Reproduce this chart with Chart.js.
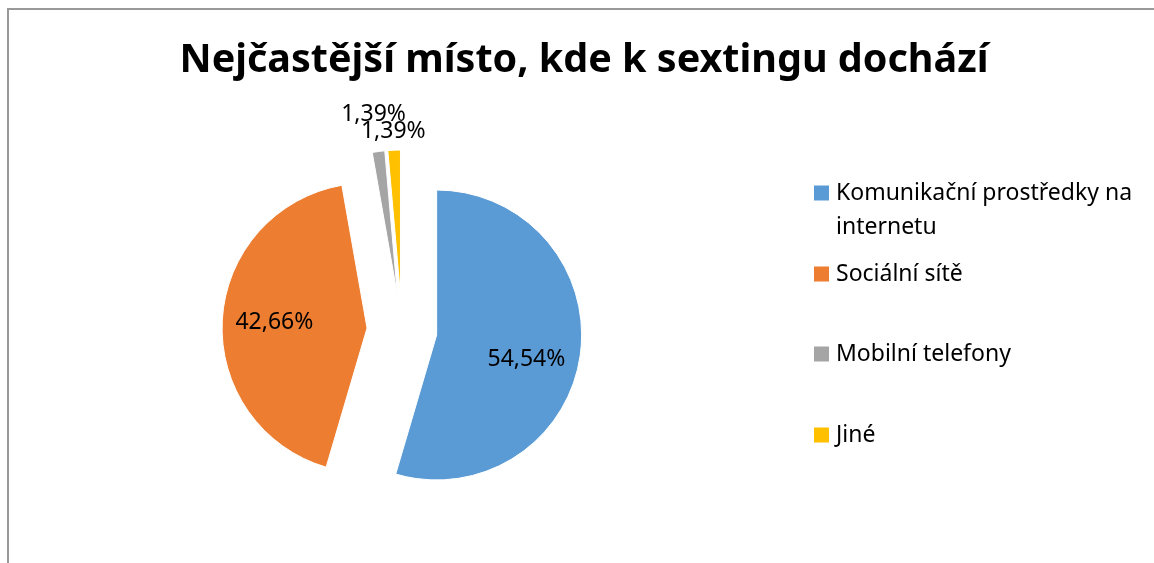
<!DOCTYPE html>
<html>
<head>
<meta charset="utf-8">
<script src="https://cdn.jsdelivr.net/npm/chart.js@4"></script>
<style>
  body { margin: 0; background: #fff; }
  #wrap { position: relative; width: 1154px; height: 563px; overflow: hidden; }
  #frame { position: absolute; left: 7px; top: 8px; width: 1200px; height: 600px;
           border-left: 2px solid #999; border-top: 2px solid #999; }
  canvas { position: absolute; left: 0; top: 0; }
</style>
</head>
<body>
<div id="wrap">
  <div id="frame"></div>
  <canvas id="myChart" width="1154" height="563"></canvas>
</div>
<script>
const chartTitle = 'Nejčastější místo, kde k sextingu dochází';
const categories = [['Komunikační prostředky na', 'internetu'], ['Sociální sítě'], ['Mobilní telefony'], ['Jiné']];
const percentages = [54.54, 42.66, 1.39, 1.39];
const sliceColors = ['#5B9BD5', '#ED7D31', '#A5A5A5', '#FFC000'];

const textFont = '"Noto Sans", sans-serif';
const explode = 35; // px every slice is pulled out of the centre

// Chart.js "offset" also grows the radius of big slices, so pull the
// slices out ourselves and let each arc element draw itself
const explodePlugin = {
    id: 'explode',
    beforeDatasetDraw(chart, args) {
        const ctx = chart.ctx;
        args.meta.data.forEach(function(arc) {
            const mid = (arc.startAngle + arc.endAngle) / 2;
            ctx.save();
            ctx.translate(Math.cos(mid) * explode, Math.sin(mid) * explode);
            arc.draw(ctx);
            ctx.restore();
        });
        return false;
    }
};

// draws the title, the legend on the right and the value labels
const extras = {
    id: 'extras',
    afterDatasetsDraw(chart, args, opts) {
        const ctx = chart.ctx;
        ctx.save();
        ctx.fillStyle = '#000';

        // title
        ctx.font = 'bold 39.5px ' + textFont;
        ctx.textAlign = 'center';
        ctx.textBaseline = 'middle';
        ctx.fillText(chartTitle, 584, 61);

        // value labels
        ctx.font = '23px ' + textFont;
        const meta = chart.getDatasetMeta(0);
        meta.data.forEach(function(arc, i) {
            const mid = (arc.startAngle + arc.endAngle) / 2 + opts.labelShift[i] * Math.PI / 180;
            const dist = explode + opts.labelRadius[i] * arc.outerRadius;
            const x = arc.x + Math.cos(mid) * dist;
            const y = arc.y + Math.sin(mid) * dist;
            const txt = percentages[i].toFixed(2).replace('.', ',') + '%';
            ctx.fillText(txt, x, y);
        });

        // legend
        ctx.textAlign = 'left';
        categories.forEach(function(lines, i) {
            const y = opts.legendY[i];
            ctx.fillStyle = sliceColors[i];
            ctx.fillRect(814, y - 7.5, 15, 15);
            ctx.fillStyle = '#000';
            lines.forEach(function(line, j) {
                ctx.fillText(line, 836, y + j * 34);
            });
        });
        ctx.restore();
    }
};

const data = {
    labels: categories.map(c => c.join(' ')),
    datasets: [{
        data: percentages,
        backgroundColor: sliceColors,
        borderColor: '#fff',
        borderWidth: 1
    }]
};

const options = {
    responsive: false,
    animation: false,
    devicePixelRatio: 1,
    radius: 145,
    layout: {
        padding: { left: 202, right: 552, top: 130, bottom: 33 }
    },
    plugins: {
        legend: { display: false },
        title: { display: false },
        tooltip: { enabled: false },
        extras: {
            labelRadius: [0.64, 0.64, 1.26, 1.13],
            labelShift: [5, 0, 0, 0],
            legendY: [193, 274, 354, 435]
        }
    }
};

const myChart = new Chart(document.getElementById('myChart'), {
    type: 'pie',
    data: data,
    options: options,
    plugins: [explodePlugin, extras]
});
</script>
</body>
</html>
